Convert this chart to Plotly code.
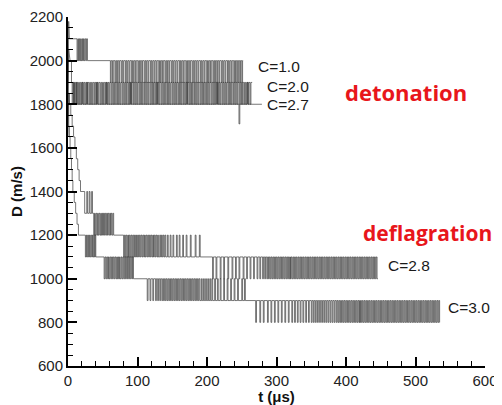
import numpy as np
import plotly.graph_objects as go

# ---------------- data ----------------
# skeleton: base level of each signal (step path), t in microseconds, D in m/s
c10_t = [0, 1, 2, 28, 28, 252]
c10_d = [1750, 2180, 2100, 2100, 2000, 2000]
c10_pulse_a = [13, 15, 17, 19, 21, 23, 25.5]            # 2100 -> 2000
c10_pulse_b = [61, 64, 67.5, 70, 73, 76.5, 79, 82.5, 85, 88, 91.5, 94, 97, 100.5,
               103, 106, 109.5, 112, 115, 118.5, 121, 124, 127, 130.5, 133, 136,
               139.5, 142, 145, 148.5, 151, 154, 157, 160.5, 163, 166, 169.5, 172,
               175, 178.5, 181, 184, 187, 190.5, 193, 196, 199.5, 202, 205, 208.5,
               211, 214, 217, 220.5, 223, 226, 229.5, 232, 235, 238.5, 241, 244,
               247, 250]                                  # 2000 -> 1900

c20_t = [0, 1, 3, 5, 5, 265]
c20_d = [1850, 2050, 2000, 2000, 1900, 1900]
c20_pulse_a = [6, 8.5, 11, 14, 16.5, 19, 22, 24.5, 27, 30, 32.5, 35, 38, 40.5, 43,
               46, 48.5, 51, 54, 56.5, 59, 62, 64.5, 67, 70, 72.5, 75, 78, 80.5, 83,
               86, 88.5, 91, 94, 96.5, 99, 102, 104.5, 107, 110, 112.5, 115, 118,
               120.5, 123, 126, 128.5, 131, 134, 136.5, 139, 142, 144.5, 147, 150,
               152.5, 155, 158, 160.5, 163, 166, 168.5, 171, 174, 176.5, 179, 182,
               184.5, 187, 190, 192.5, 195, 198, 200.5, 203, 206, 208.5, 211, 214,
               216.5, 219, 222, 224.5, 227, 230, 232.5, 235, 238, 240.5, 243, 246,
               248.5, 251, 254, 256.5, 259, 262]          # 1900 -> 1800

c27_t = [0, 1, 2, 279]
c27_d = [1650, 1850, 1800, 1800]
c27_pulse_a = [8, 12, 20, 27, 41, 55, 90, 128, 171, 214, 258]   # 1800 -> 1900
c27_pulse_b = [246]                                            # 1800 -> 1710

c28_t = [0, 2, 2, 4, 4, 6, 6, 8, 8, 10, 10, 12, 12, 14, 14, 16, 16, 18, 18,
         24, 24, 50, 50, 130, 130, 320, 320, 446]
c28_d = [1850, 1850, 1800, 1800, 1750, 1750, 1700, 1700, 1650, 1650, 1600, 1600,
         1550, 1550, 1500, 1500, 1450, 1450, 1400,
         1400, 1300, 1300, 1200, 1200, 1100, 1100, 1000, 1000]
c28_pulse_a = [27, 30.5, 34]                                    # -> 1400
c28_pulse_b = [37, 39, 41.5, 43.5, 46, 48]                      # -> 1200
c28_pulse_c = [51, 53, 55.5, 57.5, 60, 62, 64.5]                # -> 1300
c28_pulse_d = [80, 82.5, 85, 87, 89.5, 92, 94.5, 97, 99, 101.5, 104, 106.5, 109,
               111, 113.5, 116, 118.5, 121, 123, 125.5, 128]    # -> 1100
c28_pulse_e = [132, 134.5, 137, 139.5, 143, 147, 151, 156, 160, 165, 170, 176,
               183, 189]                                        # -> 1200
c28_pulse_f = [208, 213, 219, 224, 230, 236, 241, 246, 252, 257, 262, 267, 272,
               276, 280, 283, 286, 288.5, 291, 293.5, 296, 298.5, 301, 303.5, 306,
               308.5, 311, 313.5, 316, 318.5]                   # -> 1000
c28_pulse_g = [321, 323.5, 326, 328.5, 331, 333.5, 336, 338.5, 341, 343.5, 346,
               348.5, 351, 353.5, 356, 358.5, 361, 363.5, 366, 368.5, 371, 373.5,
               376, 378.5, 381, 383.5, 386, 388.5, 391, 393.5, 396, 398.5, 401,
               403.5, 406, 408.5, 411, 413.5, 416, 418.5, 421, 423.5, 426, 428.5,
               431, 433.5, 436, 438.5, 441, 443.5]              # -> 1100

c30_t = [0, 1, 1, 2, 2, 3, 3, 4, 4, 5, 5, 6, 6, 7, 7, 9, 9, 11, 11, 13, 13, 15, 15,
         40, 40, 75, 75, 190, 190, 420, 420, 535]
c30_d = [1800, 1800, 1700, 1700, 1650, 1650, 1600, 1600, 1550, 1550, 1500, 1500,
         1450, 1450, 1400, 1400, 1350, 1350, 1300, 1300, 1250, 1250, 1200,
         1200, 1100, 1100, 1000, 1000, 900, 900, 800, 800]
c30_pulse_a = [25, 27, 29.5, 31.5, 34, 36, 38]                  # -> 1100
c30_pulse_b = [52, 54.5, 57, 59, 61.5, 64, 66.5, 69, 71, 73]    # -> 1000
c30_pulse_c = [76.5, 79, 81.5, 84, 86, 88.5, 91, 93]            # -> 1100
c30_pulse_d = [114, 118, 122, 126, 129, 132, 135, 137.5, 140, 142.5, 145, 147.5,
               150, 152.5, 155, 157.5, 160, 162.5, 165, 167.5, 170, 172.5, 175,
               177.5, 180, 182.5, 185, 187.5]                   # -> 900
c30_pulse_e = [192, 195, 198, 201, 204, 207, 211, 215, 219, 224, 229, 234, 239,
               244, 250, 254]                                   # -> 1000
c30_pulse_f = [270, 276, 281, 287, 292, 297, 302, 307, 312, 317, 322, 326, 330,
               334, 338, 342, 346, 350, 353, 356, 359, 362, 365, 368, 371, 374,
               377, 380, 383, 386, 388.5, 391, 393.5, 396, 398.5, 401, 403.5, 406,
               408.5, 411, 413.5, 416, 418.5]                   # -> 800
c30_pulse_g = [421, 423.5, 426, 428.5, 431, 433.5, 436, 438.5, 441, 443.5, 446,
               448.5, 451, 453.5, 456, 458.5, 461, 463.5, 466, 468.5, 471, 473.5,
               476, 478.5, 481, 483.5, 486, 488.5, 491, 493.5, 496, 498.5, 501,
               503.5, 506, 508.5, 511, 513.5, 516, 518.5, 521, 523.5, 526, 528.5,
               531, 533.5]                                      # -> 900

series = [
    ("C=1.0", c10_t, c10_d, [(c10_pulse_a, 2000), (c10_pulse_b, 1900)]),
    ("C=2.0", c20_t, c20_d, [(c20_pulse_a, 1800)]),
    ("C=2.7", c27_t, c27_d, [(c27_pulse_a, 1900), (c27_pulse_b, 1710)]),
    ("C=2.8", c28_t, c28_d, [(c28_pulse_a, 1400), (c28_pulse_b, 1200),
                             (c28_pulse_c, 1300), (c28_pulse_d, 1100),
                             (c28_pulse_e, 1200), (c28_pulse_f, 1000),
                             (c28_pulse_g, 1100)]),
    ("C=3.0", c30_t, c30_d, [(c30_pulse_a, 1100), (c30_pulse_b, 1000),
                             (c30_pulse_c, 1100), (c30_pulse_d, 900),
                             (c30_pulse_e, 1000), (c30_pulse_f, 800),
                             (c30_pulse_g, 900)]),
]

# labels
curve_labels = ["C=1.0", "C=2.0", "C=2.7", "C=2.8", "C=3.0"]
label_t = [271, 284, 284, 458, 544]
label_d = [1972, 1880, 1798, 1059, 866]

PULSE_W = 1.2
LINE_COLOR = "#3c3c3c"


def build(skel_t, skel_d, bands):
    st = np.asarray(skel_t, float)
    sd = np.asarray(skel_d, float)
    pts = [(a, b) for a, b in zip(st, sd)]
    for times, target in bands:
        for p in times:
            idx = np.searchsorted(st, p, side="right") - 1
            base = sd[idx]
            pts += [(p, base), (p, target), (p + PULSE_W, target), (p + PULSE_W, base)]
    pts.sort(key=lambda q: q[0])
    return [q[0] for q in pts], [q[1] for q in pts]


fig = go.Figure()
for name, st, sd, bands in series:
    x, y = build(st, sd, bands)
    fig.add_trace(go.Scatter(x=x, y=y, mode="lines", name=name,
                             line=dict(color=LINE_COLOR, width=0.7),
                             showlegend=False, hoverinfo="skip"))

FONT = "Liberation Sans, Arial, sans-serif"
for txt, tx, ty in zip(curve_labels, label_t, label_d):
    fig.add_annotation(x=tx, y=ty, text=txt, showarrow=False, xanchor="left",
                       yanchor="middle", font=dict(family=FONT, size=15.5, color="#1a1a1a"))

fig.add_annotation(x=396, y=1857, text="<b>detonation</b>", showarrow=False,
                   xanchor="left", yanchor="middle",
                   font=dict(family="Open Sans, " + FONT, size=22, color="#e8161b"))
fig.add_annotation(x=421, y=1210, text="<b>deflagration</b>", showarrow=False,
                   xanchor="left", yanchor="middle",
                   font=dict(family="Open Sans, " + FONT, size=21, color="#e8161b"))

axis_common = dict(showline=True, linecolor="black", linewidth=2, mirror=False,
                   showgrid=False, zeroline=False, ticks="inside", ticklen=9,
                   tickwidth=1.5, tickcolor="black", automargin=False,
                   tickfont=dict(family=FONT, size=15, color="#222"))

fig.update_xaxes(range=[0, 600], tick0=0, dtick=100,
                 minor=dict(ticks="inside", ticklen=5, dtick=20, tickcolor="black", tickwidth=1),
                 title=dict(text="<b>t (μs)</b>", font=dict(family=FONT, size=15, color="#111"),
                            standoff=0),
                 **axis_common)
fig.update_yaxes(range=[600, 2200], tick0=600, dtick=200,
                 minor=dict(ticks="inside", ticklen=5, dtick=50, tickcolor="black", tickwidth=1),
                 title=dict(text="<b>D (m/s)</b>", font=dict(family=FONT, size=15, color="#111"),
                            standoff=4),
                 **axis_common)

# the page body adds an 8 px offset, so the figure is sized to fit the window
fig.update_layout(width=494, height=397, margin=dict(l=60, r=17, t=9, b=39),
                  plot_bgcolor="white", paper_bgcolor="white")

fig.write_html("out.html")
